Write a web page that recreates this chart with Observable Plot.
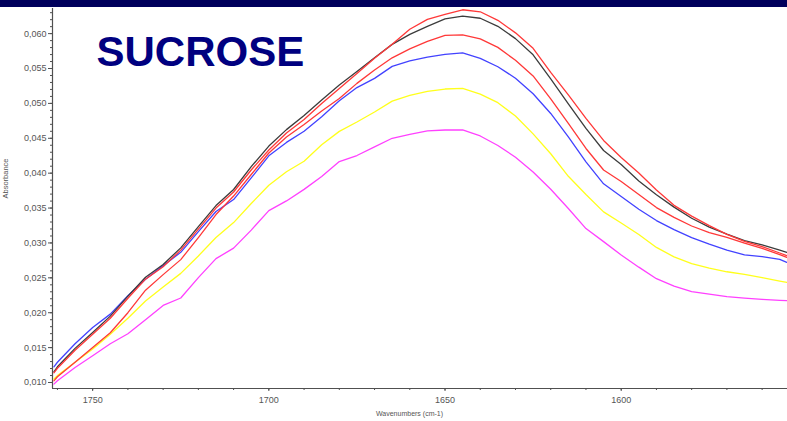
<!DOCTYPE html>
<html>
<head>
<meta charset="utf-8">
<script src="https://cdn.jsdelivr.net/npm/d3@7"></script>
<script src="https://cdn.jsdelivr.net/npm/@observablehq/plot@0.6"></script>
<style>
  html, body { margin: 0; padding: 0; background: #fff; }
  #band { height: 7px; background: #00005c; }
  #chart svg { display: block; }
</style>
</head>
<body>
<div id="band"></div>
<div id="chart"></div>
<script>
// Wavenumbers (cm-1), sampled every 5 units across the visible window
const wavenumbers = [1761, 1760, 1755, 1750, 1745, 1740, 1735, 1730, 1725, 1720, 1715, 1710, 1705, 1700,
  1695, 1690, 1685, 1680, 1675, 1670, 1665, 1660, 1655, 1650, 1645, 1640, 1635, 1630, 1625, 1620,
  1615, 1610, 1605, 1600, 1595, 1590, 1585, 1580, 1575, 1570, 1565, 1560, 1555, 1553];

// Absorbance spectra, one array per sample
const redUpper = [0.01139, 0.01204, 0.01462, 0.01692, 0.01921, 0.02208, 0.02481, 0.02660, 0.02897, 0.03199,
  0.03500, 0.03730, 0.04045, 0.04332, 0.04576, 0.04770, 0.05000, 0.05215, 0.05430, 0.05646,
  0.05846, 0.06062, 0.06205, 0.06277, 0.06342, 0.06313, 0.06191, 0.06011, 0.05789, 0.05445,
  0.05122, 0.04784, 0.04469, 0.04225, 0.04002, 0.03758, 0.03539, 0.03385, 0.03249, 0.03124,
  0.03022, 0.02947, 0.02856, 0.02818];
const black = [0.01154, 0.01225, 0.01489, 0.01718, 0.01951, 0.02237, 0.02508, 0.02692, 0.02929, 0.03235,
  0.03536, 0.03766, 0.04093, 0.04388, 0.04624, 0.04826, 0.05050, 0.05264, 0.05456, 0.05653,
  0.05846, 0.05990, 0.06105, 0.06210, 0.06250, 0.06220, 0.06105, 0.05928, 0.05696, 0.05351,
  0.04994, 0.04641, 0.04325, 0.04124, 0.03888, 0.03692, 0.03513, 0.03354, 0.03227, 0.03127,
  0.03034, 0.02973, 0.02896, 0.02866];
const redLower = [0.01024, 0.01082, 0.01290, 0.01502, 0.01713, 0.02000, 0.02323, 0.02546, 0.02761, 0.03077,
  0.03407, 0.03672, 0.03981, 0.04289, 0.04519, 0.04698, 0.04892, 0.05071, 0.05287, 0.05478,
  0.05653, 0.05782, 0.05890, 0.05976, 0.05983, 0.05925, 0.05803, 0.05617, 0.05394, 0.05064,
  0.04713, 0.04354, 0.04045, 0.03880, 0.03694, 0.03507, 0.03367, 0.03243, 0.03148, 0.03080,
  0.02998, 0.02922, 0.02833, 0.02794];
const blue = [0.01225, 0.01290, 0.01555, 0.01789, 0.01980, 0.02244, 0.02481, 0.02675, 0.02866, 0.03163,
  0.03450, 0.03622, 0.03932, 0.04249, 0.04441, 0.04601, 0.04810, 0.05039, 0.05227, 0.05359,
  0.05531, 0.05610, 0.05664, 0.05703, 0.05725, 0.05646, 0.05525, 0.05361, 0.05139, 0.04856,
  0.04519, 0.04162, 0.03847, 0.03665, 0.03483, 0.03321, 0.03191, 0.03077, 0.02982, 0.02896,
  0.02828, 0.02804, 0.02764, 0.02722];
const yellow = [0.01049, 0.01099, 0.01290, 0.01479, 0.01690, 0.01920, 0.02168, 0.02369, 0.02564, 0.02814,
  0.03077, 0.03292, 0.03565, 0.03826, 0.04021, 0.04170, 0.04407, 0.04599, 0.04733, 0.04876,
  0.05033, 0.05115, 0.05172, 0.05206, 0.05215, 0.05133, 0.05010, 0.04819, 0.04563, 0.04278,
  0.03955, 0.03694, 0.03445, 0.03285, 0.03120, 0.02936, 0.02800, 0.02703, 0.02639, 0.02587,
  0.02549, 0.02503, 0.02454, 0.02435];
const magenta = [0.00977, 0.01024, 0.01215, 0.01383, 0.01555, 0.01699, 0.01900, 0.02105, 0.02211, 0.02503,
  0.02775, 0.02926, 0.03184, 0.03464, 0.03602, 0.03768, 0.03952, 0.04167, 0.04253, 0.04378,
  0.04500, 0.04556, 0.04605, 0.04619, 0.04619, 0.04533, 0.04397, 0.04228, 0.04018, 0.03770,
  0.03493, 0.03206, 0.03019, 0.02828, 0.02653, 0.02488, 0.02381, 0.02302, 0.02266, 0.02230,
  0.02208, 0.02191, 0.02177, 0.02173];

// Axis ticks
const yMajorTicks = [0.010, 0.015, 0.020, 0.025, 0.030, 0.035, 0.040, 0.045, 0.050, 0.055, 0.060];
const xMajorTicks = [1750, 1700, 1650, 1600];

// Drawing order, bottom layer first
const series = [
  {name: "magenta", values: magenta, color: "#ff40ff"},
  {name: "yellow", values: yellow, color: "#ffff1c"},
  {name: "blue", values: blue, color: "#4242ff"},
  {name: "redLower", values: redLower, color: "#ff3838"},
  {name: "black", values: black, color: "#3c3c3c"},
  {name: "redUpper", values: redUpper, color: "#ff3838"}
];

const rows = series.flatMap(s => wavenumbers.map((w, i) => ({w, a: s.values[i], s: s.name})));

const xDomain = [1761.4, 1552.8];
const yDomain = [0.00914, 0.0636];
const yMinorTicks = d3.range(10, 64).map(d => d / 1000);
const xMinorTicks = d3.range(1560, 1761, 10);
const font = "'Liberation Sans', Arial, sans-serif";
const axisGrey = "#505050";

const chart = Plot.plot({
  width: 787,
  height: 414,
  marginLeft: 52,
  marginRight: 0,
  marginTop: 1,
  marginBottom: 33,
  style: {fontFamily: font, background: "#fff", overflow: "visible"},
  x: {domain: xDomain},
  y: {domain: yDomain},
  color: {domain: series.map(s => s.name), range: series.map(s => s.color)},
  marks: [
    Plot.axisY(yMinorTicks, {tickSize: 2, fill: "none", stroke: axisGrey, label: null}),
    Plot.axisY(yMajorTicks, {
      tickSize: 4, tickPadding: 2, stroke: axisGrey, fill: "#555", fontSize: 9, label: null,
      tickFormat: d => d.toFixed(3).replace(".", ",")
    }),
    Plot.axisX(xMinorTicks, {tickSize: 2, fill: "none", stroke: axisGrey, label: null}),
    Plot.axisX(xMajorTicks, {
      tickSize: 3, tickPadding: 5, stroke: axisGrey, fill: "#555", fontSize: 9, label: null,
      tickFormat: d => String(d)
    }),
    Plot.ruleX([xDomain[0]], {stroke: axisGrey, strokeWidth: 1.2}),
    Plot.ruleY([yDomain[0]], {stroke: axisGrey, strokeWidth: 1.2}),
    Plot.lineY(rows, {x: "w", y: "a", z: "s", stroke: "s", strokeWidth: 1.3, clip: true}),
    Plot.text(["SUCROSE"], {
      frameAnchor: "top-left", dx: 44, dy: 28, lineAnchor: "top", textAnchor: "start",
      fontSize: 42, fontWeight: "bold", fill: "#000080"
    }),
    Plot.text(["Absorbance"], {frameAnchor: "left", dx: -46.5, rotate: -90, fontSize: 7.5, fill: "#555"}),
    Plot.text(["Wavenumbers (cm-1)"], {frameAnchor: "bottom", dx: -10.5, dy: 27, fontSize: 7, fill: "#555"})
  ]
});

document.getElementById("chart").appendChild(chart);
</script>
</body>
</html>
